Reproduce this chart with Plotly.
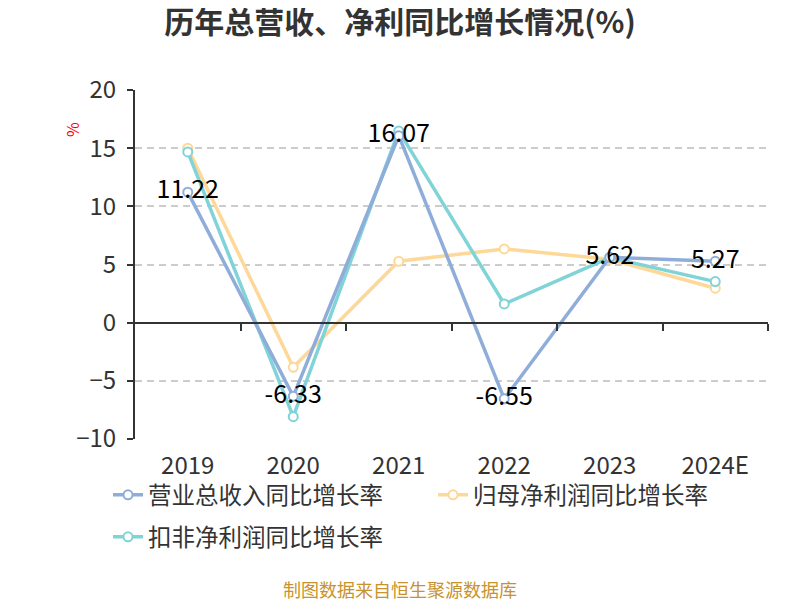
import plotly.graph_objects as go

years = ["2019", "2020", "2021", "2022", "2023", "2024E"]
revenue_growth = [11.22, -6.33, 16.07, -6.55, 5.62, 5.27]
net_profit_growth = [15.0, -3.84, 5.28, 6.34, 5.45, 2.96]
deducted_profit_growth = [14.68, -8.08, 16.48, 1.61, 5.59, 3.53]

names = ["营业总收入同比增长率", "归母净利润同比增长率", "扣非净利润同比增长率"]
colors = ["#8fadd9", "#fdd898", "#80d3d6"]

FONT = "Noto Sans CJK SC, Noto Sans, sans-serif"

# the page body has an 8px margin, so the figure is shifted by 8px
OFF = 8
L, R, T, B = 135 - OFF, 32 + OFF, 90 - OFF, 161 + OFF
W, H = 800, 600
pw, ph = W - L - R, H - T - B
def px_x(xp):
    return (xp - OFF - L) / pw
def px_y(yp):
    return (H - B - (yp - OFF)) / ph

fig = go.Figure()
series = [revenue_growth, net_profit_growth, deducted_profit_growth]
legends = ["legend", "legend", "legend2"]
draw_order = [1, 2, 0]  # revenue (with labels) drawn last, on top
for i in draw_order:
    vals, nm, c = series[i], names[i], colors[i]
    fig.add_trace(go.Scatter(
        x=years, y=vals, name=nm,
        mode="lines+markers+text" if i == 0 else "lines+markers",
        text=[f"{v:.2f}" for v in vals] if i == 0 else None,
        textposition="middle center",
        textfont=dict(size=25, color="#000000", family=FONT),
        line=dict(color=c, width=3.5),
        marker=dict(size=9, color="white", line=dict(color=c, width=2)),
        legend=legends[i],
        legendrank=i + 1,
        cliponaxis=False,
    ))

# invisible helper on xaxis2 so the zero-line axis is drawn
fig.add_trace(go.Scatter(x=[-0.5, 5.5], y=[0, 0], xaxis="x2", mode="lines",
                         line=dict(width=0), showlegend=False, hoverinfo="skip"))

fig.update_layout(
    width=W, height=H,
    paper_bgcolor="white", plot_bgcolor="white",
    margin=dict(l=L, r=R, t=T, b=B, autoexpand=False),
    font=dict(family=FONT, color="#333333"),
    title=dict(text="<b>历年总营收、净利同比增长情况(%)</b>", x=(400 - OFF) / W,
               xanchor="center", xref="container", y=1 - (22 - OFF) / H, yanchor="middle",
               yref="container", font=dict(size=30, color="#333333", family=FONT)),
    xaxis=dict(type="category", range=[-0.5, 5.5], showline=False, showgrid=False,
               ticks="", tickfont=dict(size=24, color="#333333"), ticklabelstandoff=10,
               zeroline=False),
    xaxis2=dict(overlaying="x", anchor="free", position=1/3, range=[-0.5, 5.5],
                showline=True, linecolor="#333333", linewidth=2,
                ticks="outside", ticklen=7, tickwidth=2, tickcolor="#333333",
                tickvals=[0.5, 1.5, 2.5, 3.5, 4.5, 5.5], showticklabels=False,
                showgrid=False, zeroline=False),
    yaxis=dict(range=[-10, 20], dtick=5, tick0=0, showline=True, linecolor="#333333",
               linewidth=2, ticks="outside", ticklen=6, tickwidth=2, tickcolor="#333333",
               tickfont=dict(size=24, color="#333333"), ticklabelstandoff=6,
               showgrid=True, gridcolor="#cccccc", griddash="7px,5px", gridwidth=1.6,
               zeroline=False),
    legend=dict(orientation="h", x=px_x(108), xanchor="left", y=px_y(495), yanchor="middle",
                entrywidth=280, font=dict(size=23.5, color="#333333"),
                bgcolor="rgba(0,0,0,0)"),
    legend2=dict(orientation="h", x=px_x(108), xanchor="left", y=px_y(537), yanchor="middle",
                 font=dict(size=23.5, color="#333333"), bgcolor="rgba(0,0,0,0)"),
    annotations=[
        dict(text="%", x=px_x(72), y=px_y(130), xref="paper", yref="paper", showarrow=False,
             textangle=-90, xanchor="center", yanchor="middle",
             font=dict(size=16, color="#ff0000")),
        dict(text="制图数据来自恒生聚源数据库", x=px_x(400), y=px_y(589), xref="paper",
             yref="paper", showarrow=False, xanchor="center", yanchor="middle",
             font=dict(size=18, color="#c8922e")),
    ],
)

fig.write_html("out.html")
